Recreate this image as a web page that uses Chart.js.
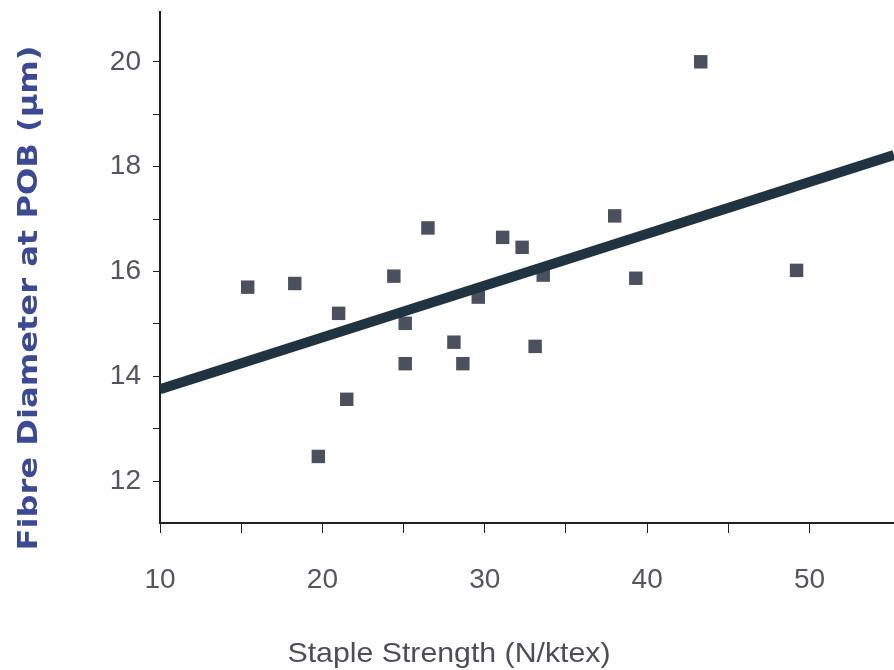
<!DOCTYPE html>
<html>
<head>
<meta charset="utf-8">
<script src="https://cdn.jsdelivr.net/npm/chart.js@4/dist/chart.umd.min.js"></script>
<style>
html, body { margin: 0; padding: 0; background: #fff; }
#wrap { width: 894px; height: 670px; }
</style>
</head>
<body>
<div id="wrap"><canvas id="grafico" width="894" height="670"></canvas></div>
<script>
// valores
const strength = [15.4, 18.3, 21.0, 19.75, 21.5, 24.4, 25.1, 25.1, 26.5, 28.1,
                  28.65, 29.6, 31.1, 32.3, 33.1, 33.6, 38.0, 39.3, 43.3, 49.2];
const diameter = [15.70, 15.77, 15.20, 12.47, 13.56, 15.91, 15.01, 14.24, 16.83, 14.65,
                  14.24, 15.51, 16.65, 16.46, 14.57, 15.93, 17.06, 15.87, 20.0, 16.02];

// reta de regressão (extremos)
const fitX = [10, 55.2];
const fitY = [13.75, 18.22];

const xTickLabels = [10, 20, 30, 40, 50];
const yTickLabels = [12, 14, 16, 18, 20];

const xTitle = 'Staple Strength (N/ktex)';
const yTitle = 'Fibre Diameter at POB (µm)';

const pontos = strength.map((x, i) => ({ x: x, y: diameter[i] }));
const reta = fitX.map((x, i) => ({ x: x, y: fitY[i] }));

// desenha os títulos dos eixos (texto esticado como no original)
function textoAjustado(ctx, texto, font, cor, cx, cy, largura, angulo) {
    ctx.save();
    ctx.font = font;
    ctx.fillStyle = cor;
    ctx.textAlign = 'center';
    ctx.textBaseline = 'middle';
    const w = ctx.measureText(texto).width;
    ctx.translate(cx, cy);
    ctx.rotate(angulo);
    ctx.scale(largura / w, 1);
    ctx.fillText(texto, 0, 0);
    ctx.restore();
}

const titulosPlugin = {
    id: 'titulos',
    afterDraw(chart) {
        const c = chart.ctx;
        textoAjustado(c, xTitle, '28px "Liberation Sans"', '#4d4d57', 449, 654, 323, 0);
        textoAjustado(c, yTitle, 'bold 27px "DejaVu Sans"', '#3c4a94', 30, 298, 505, -Math.PI / 2);
    }
};

const ctx = document.getElementById('grafico').getContext('2d');

const config = {
    type: 'scatter',
    data: {
        datasets: [
            {
                label: 'Amostras',
                data: pontos,
                pointStyle: 'rect',
                pointRadius: 9.5,
                pointHoverRadius: 9.5,
                backgroundColor: '#4b505e',
                borderColor: '#4b505e',
                borderWidth: 0,
                order: 1
            },
            {
                // a reta fica por cima dos pontos, como no original
                label: 'Regressão',
                type: 'line',
                data: reta,
                borderColor: '#1f3340',
                borderWidth: 10,
                pointRadius: 0,
                fill: false,
                order: 0
            }
        ]
    },
    options: {
        responsive: false,
        devicePixelRatio: 1,
        animation: false,
        layout: {
            autoPadding: false,
            padding: { top: 12, right: 0, bottom: 0, left: 0 }
        },
        scales: {
            x: {
                type: 'linear',
                min: 10,
                max: 55.2,
                ticks: {
                    stepSize: 5,
                    includeBounds: false,
                    autoSkip: false,
                    maxRotation: 0,
                    color: '#55555f',
                    font: { family: 'Liberation Sans', size: 28 },
                    padding: 30,
                    callback: v => xTickLabels.includes(v) ? String(v) : ''
                },
                afterBuildTicks: scale => {
                    scale.ticks = scale.ticks.filter(t => t.value <= 50);
                },
                afterFit: scale => {
                    scale.height = 147;
                    scale.paddingLeft = 0;
                    scale.paddingRight = 0;
                },
                grid: {
                    drawOnChartArea: false,
                    drawTicks: true,
                    tickLength: 10,
                    tickColor: '#222'
                },
                border: { color: '#222', width: 2 }
            },
            y: {
                type: 'linear',
                min: 11.2,
                max: 20.95,
                ticks: {
                    stepSize: 1,
                    includeBounds: false,
                    autoSkip: false,
                    color: '#55555f',
                    font: { family: 'Liberation Sans', size: 28 },
                    padding: 12,
                    callback: v => yTickLabels.includes(v) ? String(v) : ''
                },
                afterFit: scale => {
                    scale.width = 160;
                    scale.paddingTop = 0;
                    scale.paddingBottom = 0;
                },
                grid: {
                    drawOnChartArea: false,
                    drawTicks: true,
                    tickLength: 7,
                    tickColor: '#222'
                },
                border: { color: '#222', width: 2 }
            }
        },
        plugins: {
            legend: { display: false },
            tooltip: { enabled: false }
        }
    },
    plugins: [titulosPlugin]
};

const myChart = new Chart(ctx, config);
</script>
</body>
</html>
